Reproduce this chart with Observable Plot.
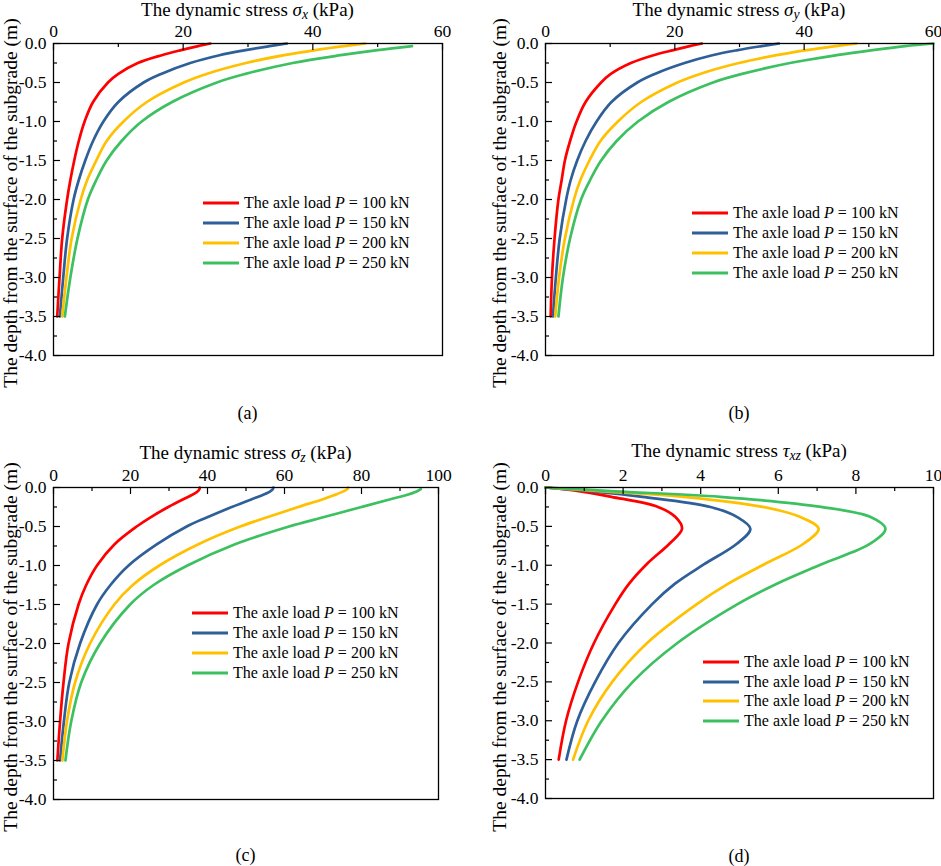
<!DOCTYPE html>
<html><head><meta charset="utf-8">
<script src="https://cdn.jsdelivr.net/npm/d3@7"></script>
<script src="https://cdn.jsdelivr.net/npm/@observablehq/plot@0.6"></script>
<style>
body{margin:0;background:#fff;}
#root{position:relative;width:941px;height:866px;font-family:"Liberation Serif","Times New Roman",serif;color:#000;overflow:hidden;}
.panel{position:absolute;}
.abs{position:absolute;white-space:nowrap;line-height:1;}
.xt{font-size:19px;transform:translate(-50%,-50%);}
.yt{font-size:19.5px;transform:translate(-50%,-50%) rotate(-90deg);}
.cap{font-size:18px;transform:translate(-50%,-50%);}
.leg{position:absolute;height:20px;display:flex;align-items:center;font-size:16px;white-space:nowrap;}
.leg svg{margin-right:5px;}
sub{font-size:0.72em;vertical-align:-0.25em;line-height:0;}
</style></head><body><div id="root"></div>
<script>
const loads = ["100", "150", "200", "250"];
const colors = ["#ff0000", "#2f5f98", "#ffc000", "#3cc060"];
const yTicks = [0, -0.5, -1, -1.5, -2, -2.5, -3, -3.5, -4];
const yMinor = [-0.25, -0.75, -1.25, -1.75, -2.25, -2.75, -3.25, -3.75];

// (a) sigma_x
const xTicksA = [0, 20, 40, 60];
const xMinorA = [10, 30, 50];
const depthA = [0, -0.034, -0.085, -0.15, -0.25, -0.39, -0.5, -0.75, -1.0, -1.25, -1.5, -1.75, -2.0, -2.5, -3.0, -3.5];
const sxP100 = [24.2, 22.3, 19.7, 16.7, 13.0, 10.0, 8.4, 6.1, 4.8, 3.9, 3.2, 2.6, 2.1, 1.34, 0.93, 0.57];
const sxP150 = [36.0, 33.3, 29.6, 25.6, 21.1, 16.6, 13.9, 10.0, 7.7, 6.1, 4.9, 3.9, 3.1, 2.1, 1.5, 0.98];
const sxP200 = [48.1, 44.8, 40.4, 35.6, 29.7, 23.6, 20.1, 14.4, 10.8, 8.2, 6.6, 5.2, 4.2, 2.8, 2.0, 1.34];
const sxP250 = [null, 55.3, 50.0, 44.3, 36.9, 29.6, 25.2, 18.3, 13.6, 10.5, 8.2, 6.6, 5.3, 3.7, 2.6, 1.75];

// (b) sigma_y
const xTicksB = [0, 20, 40, 60];
const xMinorB = [10, 30, 50];
const depthB = [0, -0.034, -0.085, -0.15, -0.25, -0.39, -0.5, -0.75, -1.0, -1.25, -1.5, -1.75, -2.0, -2.5, -3.0, -3.5];
const syP100 = [24.2, 22.3, 19.8, 16.7, 13.2, 10.1, 8.6, 6.2, 4.8, 3.8, 3.0, 2.5, 2.0, 1.4, 1.0, 0.8];
const syP150 = [36.1, 33.4, 29.7, 25.8, 21.5, 16.9, 14.2, 10.2, 7.9, 6.2, 4.9, 3.9, 3.2, 2.2, 1.6, 1.15];
const syP200 = [48.1, 44.8, 40.4, 35.7, 29.9, 23.9, 20.4, 14.8, 11.2, 8.5, 6.8, 5.4, 4.4, 3.0, 2.1, 1.5];
const syP250 = [60.0, 55.6, 50.6, 45.0, 37.8, 30.4, 25.9, 19.0, 14.3, 11.0, 8.6, 6.9, 5.5, 3.8, 2.7, 2.0];

// (c) sigma_z
const xTicksC = [0, 20, 40, 60, 80, 100];
const xMinorC = [10, 30, 50, 70, 90];
const depthC = [0, -0.02, -0.05, -0.1, -0.15, -0.25, -0.385, -0.5, -0.73, -1.0, -1.25, -1.5, -2.0, -2.5, -3.0, -3.5];
const szP100 = [38.0, 37.9, 37.4, 35.8, 33.7, 29.8, 25.1, 21.6, 15.8, 11.3, 8.5, 6.5, 3.9, 2.6, 1.7, 1.0];
const szP150 = [57.1, 57.0, 56.3, 54.2, 51.5, 46.3, 39.8, 34.6, 26.8, 19.5, 14.8, 11.3, 6.9, 4.1, 2.7, 1.7];
const szP200 = [76.5, 76.3, 75.3, 72.8, 70.0, 63.6, 55.3, 48.5, 37.5, 27.5, 20.6, 15.8, 9.5, 5.6, 3.5, 2.3];
const szP250 = [null, 95.4, 94.3, 91.5, 87.5, 80.0, 69.8, 61.2, 47.0, 34.8, 26.0, 19.9, 12.1, 7.2, 4.6, 3.1];

// (d) tau_xz
const xTicksD = [0, 2, 4, 6, 8, 10];
const xMinorD = [1, 3, 5, 7, 9];
const depthD = [0, -0.05, -0.12, -0.25, -0.38, -0.53, -0.72, -0.99, -1.24, -1.5, -2.0, -2.5, -3.0, -3.5];
const txzP100 = [0, 0.9, 1.7, 2.9, 3.35, 3.52, 3.2, 2.6, 2.15, 1.8, 1.25, 0.84, 0.53, 0.34];
const txzP150 = [0, 1.2, 2.5, 4.25, 4.94, 5.28, 4.94, 4.08, 3.33, 2.75, 1.88, 1.28, 0.82, 0.54];
const txzP200 = [0, 1.5, 3.56, 5.6, 6.57, 7.04, 6.66, 5.63, 4.7, 3.9, 2.62, 1.72, 1.1, 0.71];
const txzP250 = [0, 1.8, 4.5, 7.1, 8.38, 8.76, 8.38, 7.1, 5.95, 4.95, 3.4, 2.25, 1.45, 0.88];

const yLabel = "The depth from the surface of the subgrade (m)";

const panels = [
  {left: 0, top: 0, w: 470, h: 430, ml: 53, mr: 28, mt: 43, mb: 75, xmax: 60, xTicks: xTicksA, xMinor: xMinorA,
   depth: depthA, series: [sxP100, sxP150, sxP200, sxP250],
   title: 'The dynamic stress <i>σ<sub>x</sub></i> (kPa)', titleY: 9, caption: "(a)", capY: 413, yLabX: 11,
   legX: 203, legY: 203, legStep: 20},
  {left: 470, top: 0, w: 471, h: 430, ml: 75, mr: 8, mt: 43, mb: 75, xmax: 60, xTicks: xTicksB, xMinor: xMinorB,
   depth: depthB, series: [syP100, syP150, syP200, syP250],
   title: 'The dynamic stress <i>σ<sub>y</sub></i> (kPa)', titleY: 9, caption: "(b)", capY: 413, yLabX: 500,
   legX: 692, legY: 213, legStep: 20},
  {left: 0, top: 430, w: 470, h: 436, ml: 53, mr: 32, mt: 57, mb: 67, xmax: 100, xTicks: xTicksC, xMinor: xMinorC,
   depth: depthC, series: [szP100, szP150, szP200, szP250],
   title: 'The dynamic stress <i>σ<sub>z</sub></i> (kPa)', titleY: 452, caption: "(c)", capY: 855, yLabX: 11,
   legX: 192, legY: 613, legStep: 20},
  {left: 470, top: 430, w: 471, h: 436, ml: 75, mr: 8, mt: 57, mb: 68, xmax: 10, xTicks: xTicksD, xMinor: xMinorD,
   depth: depthD, series: [txzP100, txzP150, txzP200, txzP250],
   title: 'The dynamic stress <i>τ<sub>xz</sub></i> (kPa)', titleY: 450, caption: "(d)", capY: 856, yLabX: 500,
   legX: 703, legY: 662, legStep: 19.7}
];

const root = document.getElementById("root");

function add(html, cls, x, y) {
  const d = document.createElement("div");
  d.className = "abs " + cls;
  d.style.left = x + "px";
  d.style.top = y + "px";
  d.innerHTML = html;
  root.appendChild(d);
  return d;
}

const FONT = '"Liberation Serif","Times New Roman",serif';

panels.forEach(p => {
  const pw = p.w - p.ml - p.mr, ph = p.h - p.mt - p.mb;
  const xPer = p.xmax / pw, yPer = 4 / ph;
  const data = [];
  p.series.forEach((vals, i) => vals.forEach((v, j) => {
    if (v != null) data.push({s: i, x: v, y: p.depth[j]});
  }));
  const chart = Plot.plot({
    width: p.w, height: p.h,
    marginLeft: p.ml, marginRight: p.mr, marginTop: p.mt, marginBottom: p.mb,
    x: {domain: [0, p.xmax], axis: null},
    y: {domain: [-4, 0], axis: null},
    style: {fontFamily: FONT, fontSize: "17.5px", background: "transparent", color: "#000", overflow: "visible"},
    marks: [
      Plot.line(data, {x: "x", y: "y", z: "s", stroke: d => colors[d.s], strokeWidth: 2.7, curve: "catmull-rom"}),
      Plot.ruleX(p.xTicks, {x: d => d, y1: 0, y2: -7 * yPer, stroke: "#000", strokeWidth: 1.2}),
      Plot.ruleX(p.xMinor, {x: d => d, y1: 0, y2: -4 * yPer, stroke: "#000", strokeWidth: 1.2}),
      Plot.ruleY(yTicks, {y: d => d, x1: 0, x2: 7 * xPer, stroke: "#000", strokeWidth: 1.2}),
      Plot.ruleY(yMinor, {y: d => d, x1: 0, x2: 4 * xPer, stroke: "#000", strokeWidth: 1.2}),
      Plot.axisX(p.xTicks, {anchor: "top", tickSize: 0, tickPadding: 7, label: null, tickFormat: d => String(d), fill: "#000", fontFamily: FONT, fontSize: 17.5}),
      Plot.axisY(yTicks, {anchor: "left", tickSize: 0, tickPadding: 7, label: null, tickFormat: d => d.toFixed(1), fill: "#000", fontFamily: FONT, fontSize: 17.5}),
      Plot.frame({stroke: "#000", strokeWidth: 1.3})
    ]
  });
  const wrap = document.createElement("div");
  wrap.className = "panel";
  wrap.style.left = p.left + "px";
  wrap.style.top = p.top + "px";
  wrap.appendChild(chart);
  root.appendChild(wrap);

  const cx = p.left + p.ml + pw / 2;
  const cy = p.top + p.mt + ph / 2;
  add(p.title, "xt", cx, p.titleY);
  add(yLabel, "yt", p.yLabX, cy + 4);
  add(p.caption, "cap", cx, p.capY);

  loads.forEach((L, i) => {
    const row = document.createElement("div");
    row.className = "leg";
    row.style.left = p.legX + "px";
    row.style.top = (p.legY + i * p.legStep - 10) + "px";
    row.innerHTML = `<svg width="36" height="6"><line x1="0" x2="36" y1="3" y2="3" stroke="${colors[i]}" stroke-width="2.8"/></svg><span>The axle load <i>P</i> = ${L} kN</span>`;
    root.appendChild(row);
  });
});
</script>
</body></html>
